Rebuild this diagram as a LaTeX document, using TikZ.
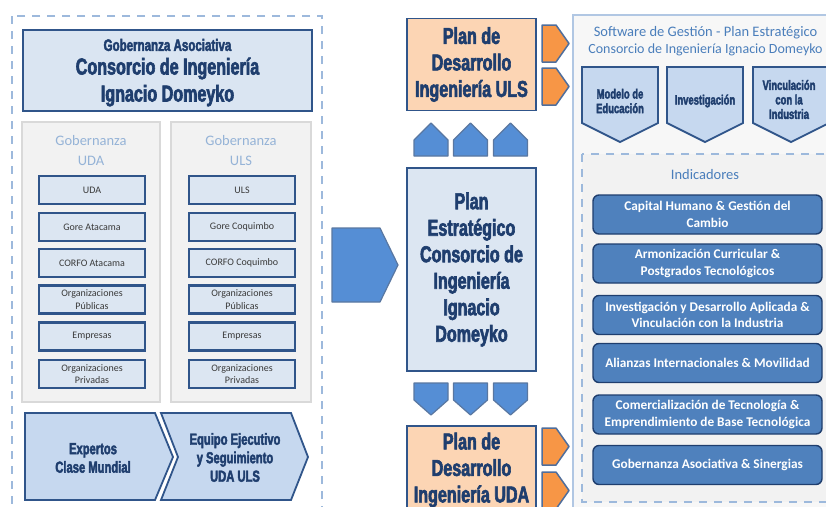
\documentclass[tikz,border=0pt]{standalone}
\usepackage{fontspec}
\setmainfont{Carlito}
\newfontfamily\condf[FakeStretch=0.70,FakeBold=2.6]{Liberation Sans}
\definecolor{navy}{HTML}{1F3E6E}
\definecolor{bdark}{HTML}{30558A}
\definecolor{lightfill}{HTML}{DCE6F2}
\definecolor{chevfill}{HTML}{C6D8EF}
\definecolor{peach}{HTML}{FCD5B4}
\definecolor{orng}{HTML}{F79646}
\definecolor{midblue}{HTML}{558ED5}
\definecolor{indblue}{HTML}{4F81BD}
\definecolor{panelgrey}{HTML}{F2F2F2}
\definecolor{panelline}{HTML}{D9D9D9}
\definecolor{headblue}{HTML}{95B3D7}
\definecolor{titblue}{HTML}{4A7EBB}
\definecolor{txtgrey}{HTML}{3A3A3A}
\definecolor{frameblue}{HTML}{9DB9DC}
\begin{document}
\begin{tikzpicture}[x=1pt,y=-1pt,
  dashframe/.style={draw=frameblue, line width=2pt, dash pattern=on 8pt off 7pt},
  greypanel/.style={draw=panelline, line width=1.5pt, fill=panelgrey},
  smallbox/.style={draw=bdark, line width=2.4pt, fill=lightfill, minimum width=106, minimum height=28, inner sep=0pt, align=center, text=txtgrey, font=\fontsize{10}{12.5}\selectfont},
  headtxt/.style={text=headblue, align=center, font=\fontsize{14.5}{20}\selectfont},
  bigbox/.style={draw=bdark, line width=1.8pt, inner sep=0pt, align=center, text=navy, font=\condf\bfseries\fontsize{23}{26.5}\selectfont},
  navytxt/.style={text=navy, align=center, inner sep=0pt},
  chev/.style={draw=bdark, line width=1.8pt, fill=chevfill, line join=miter},
  midarrow/.style={draw=bdark!80, line width=1.2pt, fill=midblue, line join=round},
  tab/.style={draw=bdark!85, line width=1.5pt, fill=orng, line join=round},
  indbox/.style={draw=navy, line width=1.4pt, fill=indblue, rounded corners=6pt, minimum width=229, minimum height=39, inner sep=0pt, align=center, text=white, font=\bfseries\fontsize{13.3}{16.5}\selectfont},
  rtitle/.style={text=titblue, align=center, inner sep=0pt, font=\fontsize{14.5}{17}\selectfont}
]
\useasboundingbox (0,0) rectangle (826,506);
\fill[white] (0,0) rectangle (826,506);
\clip (0,0) rectangle (826,506);

% ---------------- left frame ----------------
\draw[dashframe] (12,16) rectangle (322,530);

\node[draw=bdark, line width=1.8pt, fill=lightfill!90!chevfill, minimum width=289, minimum height=81, inner sep=0pt] (gov) at (167.5,70.5) {};
\node[navytxt, font=\condf\bfseries\fontsize{16.5}{18}\selectfont] (govt1) at (167.5,45) {Gobernanza Asociativa};
\node[navytxt, font=\condf\bfseries\fontsize{23}{27}\selectfont] (govt2) at (167.5,82) {Consorcio de Ingeniería\\Ignacio Domeyko};

\node[greypanel, minimum width=138, minimum height=280, inner sep=0pt] (pUDA) at (91,262) {};
\node[greypanel, minimum width=140, minimum height=280, inner sep=0pt] (pULS) at (241,262) {};
\node[headtxt] (hUDA) at (91,151) {Gobernanza\\UDA};
\node[headtxt] (hULS) at (241,151) {Gobernanza\\ULS};

\node[smallbox] (a1) at (92,190) {UDA};
\node[smallbox] (a2) at (92,227) {Gore Atacama};
\node[smallbox] (a3) at (92,263) {CORFO Atacama};
\node[smallbox] (a4) at (92,299.5) {Organizaciones\\Públicas};
\node[smallbox] (a5) at (92,336.5) {Empresas};
\node[smallbox] (a6) at (92,374) {Organizaciones\\Privadas};

\node[smallbox] (b1) at (242,190) {ULS};
\node[smallbox] (b2) at (242,227) {Gore Coquimbo};
\node[smallbox] (b3) at (242,263) {CORFO Coquimbo};
\node[smallbox] (b4) at (242,299.5) {Organizaciones\\Públicas};
\node[smallbox] (b5) at (242,336.5) {Empresas};
\node[smallbox] (b6) at (242,374) {Organizaciones\\Privadas};

\filldraw[chev] (25,413) -- (155,413) -- (173,457) -- (155,500) -- (25,500) -- cycle;
\filldraw[chev] (161,413) -- (291,413) -- (308,457) -- (291,500) -- (161,500) -- (178,457) -- cycle;
\node[navytxt, font=\condf\bfseries\fontsize{16}{18.5}\selectfont] (exp) at (93,458) {Expertos\\Clase Mundial};
\node[navytxt, font=\condf\bfseries\fontsize{16}{18.5}\selectfont] (equ) at (235,457.5) {Equipo Ejecutivo\\y Seguimiento\\UDA ULS};

% ---------------- centre ----------------
\filldraw[midarrow] (332,228) -- (380,228) -- (398,265) -- (380,302) -- (332,302) -- cycle;

\node[bigbox, fill=lightfill, minimum width=129, minimum height=203] (pe) at (471.5,269.5) {Plan\\Estratégico\\Consorcio de\\Ingeniería\\Ignacio\\Domeyko};
\node[bigbox, fill=peach, minimum width=129, minimum height=92] (uls) at (471.5,64.5) {Plan de\\Desarrollo\\Ingeniería ULS};
\node[bigbox, fill=peach, minimum width=129, minimum height=88] (uda) at (471.5,470) {Plan de\\Desarrollo\\Ingeniería UDA};

\foreach \x in {414,453.5,493.5}{
  \filldraw[midarrow] (\x,156) -- (\x,140) -- (\x+17,123) -- (\x+34,140) -- (\x+34,156) -- cycle;
  \filldraw[midarrow] (\x,383) -- (\x+34,383) -- (\x+34,400) -- (\x+17,415) -- (\x,400) -- cycle;
}

\foreach \y in {25,68,428,472}{
  \filldraw[tab] (542,\y) -- (556,\y) -- (569,\y+18.5) -- (556,\y+37) -- (542,\y+37) -- cycle;
}

% ---------------- right panel ----------------
\draw[draw=frameblue!80, line width=2pt, fill=white!97!black] (573,15) rectangle (850,540);
\node[rtitle] (rt) at (705.5,41.5) {Software de Gestión - Plan Estratégico\\{\fontsize{14}{17}\selectfont Consorcio de Ingeniería Ignacio Domeyko}};

\filldraw[chev] (582,67) -- (658,67) -- (658,123) -- (620,142) -- (582,123) -- cycle;
\filldraw[chev] (667,67) -- (743,67) -- (743,123) -- (705,142) -- (667,123) -- cycle;
\filldraw[chev] (753,67) -- (829,67) -- (829,123) -- (791,142) -- (753,123) -- cycle;
\node[navytxt, font=\condf\bfseries\fontsize{13.5}{14.5}\selectfont] (m1) at (620,101) {Modelo de\\Educación};
\node[navytxt, font=\condf\bfseries\fontsize{13.5}{14.5}\selectfont] (m2) at (705,101) {Investigación};
\node[navytxt, font=\condf\bfseries\fontsize{13.5}{14.5}\selectfont] (m3) at (789,99.5) {Vinculación\\con la\\Industria};

\draw[dashframe, fill=panelgrey] (582,154) rectangle (850,502);
\node[rtitle] (ind) at (705,175) {Indicadores};

\node[indbox] (i1) at (707.5,214.5) {Capital Humano \& Gestión del\\Cambio};
\node[indbox] (i2) at (707.5,263.5) {Armonización Curricular \&\\Postgrados Tecnológicos};
\node[indbox] (i3) at (707.5,315) {Investigación y Desarrollo Aplicada \&\\Vinculación con la Industria};
\node[indbox] (i4) at (707.5,363) {Alianzas Internacionales \& Movilidad};
\node[indbox] (i5) at (707.5,414.5) {Comercialización de Tecnología \&\\Emprendimiento de Base Tecnológica};
\node[indbox] (i6) at (707.5,465) {Gobernanza Asociativa \& Sinergias};
\end{tikzpicture}
\end{document}
